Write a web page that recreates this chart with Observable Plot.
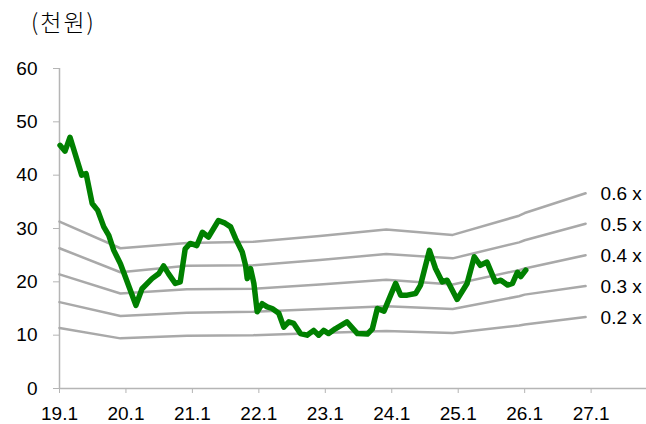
<!DOCTYPE html>
<html>
<head>
<meta charset="utf-8">
<script src="https://cdn.jsdelivr.net/npm/d3@7"></script>
<script src="https://cdn.jsdelivr.net/npm/@observablehq/plot@0.6"></script>
<style>
  body { margin: 0; background: #fff; }
  #title { height: 40px; line-height: 42px; padding-left: 31px; font-size: 23px; letter-spacing: 2px; font-weight: 300;
           font-family: "Noto Sans CJK KR", sans-serif; color: #000; }
</style>
</head>
<body>
<div id="title">(천원)</div>
<div id="chart"></div>
<script>
// x positions are months since 2019.1
const priceMonths = [0.1, 1.0, 1.9, 4.0, 4.8, 5.9, 6.9, 8.0, 8.9, 9.8, 11.0, 11.9, 13.8, 14.9, 16.7, 17.9, 18.8, 19.7, 20.9, 21.8,
  22.7, 23.6, 24.8, 25.8, 26.9, 28.7, 29.9, 30.9, 31.8, 33.0, 33.6, 33.9, 34.5, 35.1, 35.7, 36.6, 37.5, 38.4, 39.6, 40.5,
  41.4, 42.3, 43.5, 44.7, 45.9, 46.8, 47.7, 48.6, 49.8, 51.9, 53.8, 55.6, 56.5, 57.4, 58.6, 59.8, 60.7, 61.6, 62.8, 64.3,
  65.2, 66.8, 67.9, 69.1, 70.0, 71.8, 73.6, 74.9, 76.0, 77.2, 78.7, 79.7, 80.9, 81.8, 82.7, 83.3, 84.2];
const priceValues = [45.6, 44.5, 47.1, 40.0, 40.3, 34.7, 33.4, 30.3, 28.7, 25.9, 23.4, 20.9, 15.6, 18.7, 20.6, 21.5, 23.0, 21.5, 19.7, 20.0,
  26.2, 27.2, 26.8, 29.3, 28.4, 31.5, 31.0, 30.3, 28.1, 25.6, 23.1, 20.6, 22.5, 19.7, 14.4, 15.9, 15.3, 15.0, 14.1, 11.5,
  12.5, 12.2, 10.3, 10.0, 10.9, 10.0, 10.9, 10.3, 11.2, 12.5, 10.3, 10.2, 11.2, 15.0, 14.5, 17.5, 19.7, 17.5, 17.5, 17.8,
  19.4, 25.9, 22.5, 20.0, 20.3, 16.7, 19.7, 24.7, 23.1, 23.7, 20.0, 20.3, 19.4, 19.7, 21.8, 21.0, 22.2];

const bandMonths = [0, 11, 23, 35, 47, 59, 71, 83, 84, 95];
const band06 = [31.3, 26.3, 27.3, 27.5, 28.6, 29.8, 28.8, 32.4, 32.9, 36.6];
const band05 = [26.3, 21.8, 23.0, 23.1, 24.1, 25.2, 24.4, 27.4, 27.8, 30.9];
const band04 = [21.4, 17.8, 18.6, 18.7, 19.5, 20.4, 19.5, 22.2, 22.5, 25.0];
const band03 = [16.2, 13.6, 14.2, 14.4, 14.9, 15.4, 14.9, 17.3, 17.6, 19.2];
const band02 = [11.35, 9.4, 9.9, 10.0, 10.4, 10.8, 10.4, 11.8, 12.0, 13.4];
const bandLabels = ["0.6 x", "0.5 x", "0.4 x", "0.3 x", "0.2 x"];

const xTickMonths = [0, 12, 24, 36, 48, 60, 72, 84, 96];
const xTickLabels = ["19.1", "20.1", "21.1", "22.1", "23.1", "24.1", "25.1", "26.1", "27.1"];
const yTicks = [0, 10, 20, 30, 40, 50, 60];

const bands = [band06, band05, band04, band03, band02];
const bandRows = bands.flatMap((vals, b) => vals.map((v, i) => ({band: bandLabels[b], m: bandMonths[i], v})));
const bandEnds = bands.map((vals, b) => ({label: bandLabels[b], m: bandMonths[bandMonths.length - 1], v: vals[vals.length - 1]}));
const priceRows = priceMonths.map((m, i) => ({m, v: priceValues[i]}));

const axisGray = "#b5b5b5";
const chart = Plot.plot({
  width: 646,
  height: 384,
  marginTop: 28,
  marginLeft: 59,
  marginRight: 0,
  marginBottom: 36,
  x: {domain: [0, 106], label: null},
  y: {domain: [0, 60], label: null},
  style: {fontFamily: "'Liberation Sans', Arial, sans-serif", fontSize: "19px", background: "#fff", color: "#000"},
  marks: [
    Plot.axisX({ticks: xTickMonths, tickFormat: d => xTickLabels[xTickMonths.indexOf(d)], tickSize: 5, tickPadding: 13, stroke: axisGray, fill: "#000", fontSize: 19, label: null}),
    Plot.axisY({ticks: yTicks, tickSize: 6, tickPadding: 16, stroke: axisGray, fill: "#000", fontSize: 19, label: null}),
    Plot.ruleY([0], {stroke: axisGray, strokeWidth: 1.5}),
    Plot.ruleX([0], {stroke: axisGray, strokeWidth: 1.5}),
    Plot.line(bandRows, {x: "m", y: "v", z: "band", stroke: "#a9a9a9", strokeWidth: 2.5}),
    Plot.line(priceRows, {x: "m", y: "v", stroke: "#008000", strokeWidth: 5.5, strokeLinejoin: "round", strokeLinecap: "round"}),
    Plot.text(bandEnds, {x: "m", y: "v", text: "label", textAnchor: "start", dx: 15, dy: 1, fontSize: 19, fill: "#000"})
  ]
});
document.getElementById("chart").appendChild(chart);
</script>
</body>
</html>
